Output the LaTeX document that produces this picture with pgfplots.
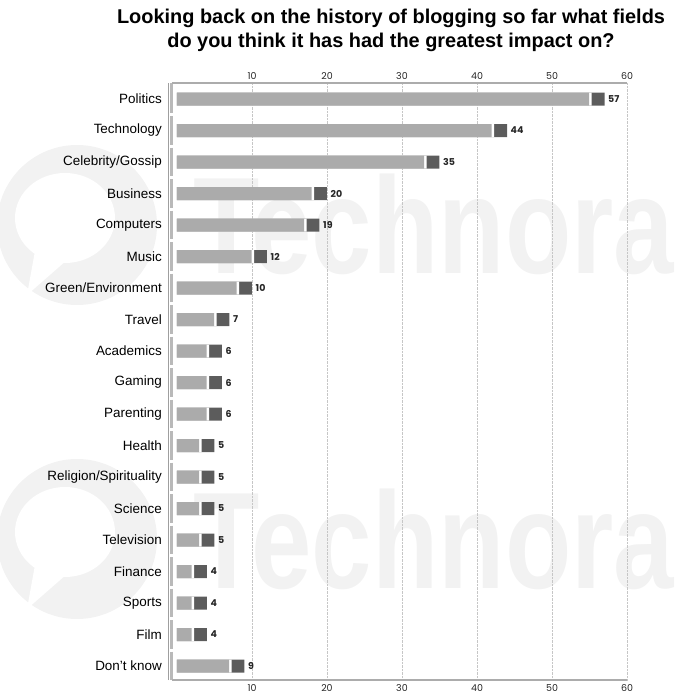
\documentclass[border=0pt]{standalone}
\usepackage{pgfplots}
\pgfplotsset{compat=1.18}
\usepackage{pgfplotstable}
\usepackage{graphicx}
\usepackage{fontspec}
\setmainfont{Liberation Sans}
\newfontfamily\tickfont{Poppins}
\definecolor{lightbar}{HTML}{ABABAB}
\definecolor{darkbar}{HTML}{5C5C5C}
\definecolor{wm}{HTML}{F2F2F2}

\pgfplotstableread{
idx v
0 57
1 44
2 35
3 20
4 19
5 12
6 10
7 7
8 6
9 6
10 6
11 5
12 5
13 5
14 5
15 4
16 4
17 4
18 9
}\data

\begin{document}
\begin{tikzpicture}
\useasboundingbox (-177bp,-14bp) rectangle (508bp,680bp);
% watermark (Technorati logo + name)
\foreach \dy in {0,314}{
  \fill[wm] (-100bp,{(455-\dy)*1bp}) circle (80bp);
  \fill[white] (-112bp,{(462-\dy)*1bp}) ellipse (50bp and 45bp);
  \fill[white] (-140bp,{(440-\dy)*1bp}) -- (-150bp,{(385-\dy)*1bp}) -- (-110bp,{(420-\dy)*1bp}) -- cycle;
  \node[anchor=base west, text=wm, inner sep=0pt] at (16bp,{(406-\dy)*1bp})
     {\bfseries\fontsize{138}{138}\selectfont\scalebox{0.79}[1]{Technora}};
}
% title
\node[font=\bfseries\fontsize{20}{24}\selectfont, align=center, anchor=center] at (214bp,650bp)
  {Looking back on the history of blogging so far what fields\\do you think it has had the greatest impact on?};
% left decorative axis
\draw[gray!75, line width=0.8bp] (-9bp,0bp) -- (-9bp,597bp);
\foreach \k in {0,...,18}{
  \pgfmathsetmacro{\yt}{(\k==0) ? 597 : 565.25-31.5*(\k-1)-1.5}
  \pgfmathsetmacro{\yb}{(\k==18) ? 0 : 565.25-31.5*\k+1.5}
  \draw[gray!55, line width=3bp] (-5bp,\yt bp) -- (-5bp,\yb bp);
}
\begin{axis}[
  at={(0,0)}, anchor=south west,
  scale only axis, width=450bp, height=597bp,
  xmin=0, xmax=60, ymin=-0.508, ymax=18.444, y dir=reverse,
  axis line style={draw=none},
  xtick={10,20,...,60},
  xmajorgrids, grid style={gray!45, densely dotted, line width=0.6bp},
  major tick length=0pt,
  xticklabel style={font=\tickfont\fontsize{9.5}{10}\selectfont, text=black!85, inner sep=0pt, yshift=-4bp},
  /pgf/number format/assume math mode=true,
  ytick={0,...,18},
  yticklabels={Politics,Technology,Celebrity/Gossip,Business,Computers,Music,Green/Environment,Travel,Academics,Gaming,Parenting,Health,Religion/Spirituality,Science,Television,Finance,Sports,Film,Don't know},
  yticklabel style={font=\fontsize{13.5}{14}\selectfont, text=black, inner sep=0pt, xshift=-15bp},
  clip=false,
]
\addplot[xbar, bar width=13bp, bar shift=0pt, fill=darkbar, draw=none,
  nodes near coords,
  nodes near coords style={font=\tickfont\bfseries\fontsize{9.5}{10}\selectfont, text=black!85, inner sep=0pt, anchor=west, xshift=3.5bp},
  ] table[x=v, y=idx] {\data};
\addplot[xbar, bar width=13bp, bar shift=0pt, fill=white, draw=none] table[x expr=\thisrow{v}-1.72, y=idx] {\data};
\addplot[xbar, bar width=13bp, bar shift=0pt, fill=lightbar, draw=none] table[x expr=\thisrow{v}-2.05, y=idx] {\data};
\end{axis}
\begin{axis}[
  at={(0,0)}, anchor=south west,
  scale only axis, width=450bp, height=597bp,
  xmin=0, xmax=60, ymin=0, ymax=1,
  axis line style={draw=none},
  xtick={10,20,...,60}, ytick=\empty,
  xticklabel pos=upper,
  major tick length=0pt,
  xticklabel style={font=\tickfont\fontsize{9.5}{10}\selectfont, text=black!85, inner sep=0pt, yshift=3bp},
  /pgf/number format/assume math mode=true,
]
\end{axis}
% top and bottom axis lines
\draw[gray!65, line width=1.6bp] (-5bp,597bp) -- (450bp,597bp);
\draw[gray!65, line width=1.6bp] (-5bp,0bp) -- (450bp,0bp);
\end{tikzpicture}
\end{document}
